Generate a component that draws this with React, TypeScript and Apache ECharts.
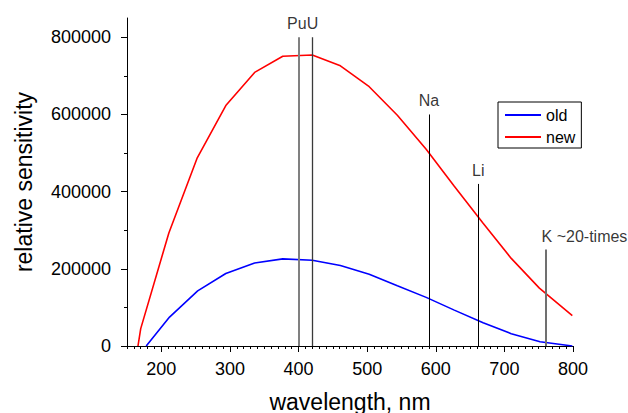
import { useEffect, useRef } from "react";
import * as echarts from "echarts";

const wavelengthOld = [178, 212, 253, 294, 336, 377, 420, 461, 503, 544, 586, 627, 669, 710, 752, 799];
const sensitivityOld = [0, 75000, 142700, 187800, 215300, 225700, 222300, 208500, 186000, 156000, 126000, 93000, 60000, 32000, 11000, 0];
const wavelengthNew = [166, 170, 211, 252, 294, 336, 377, 420, 461, 503, 544, 586, 627, 669, 710, 751, 799];
const sensitivityNew = [0, 45000, 293000, 486000, 623000, 709000, 751000, 754000, 726000, 672000, 598000, 510000, 414000, 318000, 227000, 150000, 79000];

const lineWavelengths = [400, 420, 590, 662, 760];
const lineTops = [800000, 800000, 600000, 420000, 250000];

const annotationTexts = ["PuU", "Na", "Li", "K ~20-times"];
const annotationWavelengths = [406, 590, 662, 760];
const annotationHeights = [800000, 600000, 420000, 250000];

const xTickValues = [200, 300, 400, 500, 600, 700, 800];
const yTickValues = [0, 200000, 400000, 600000, 800000];
const yMinorTickValues = [100000, 300000, 500000, 700000];

const FONT = "'Liberation Sans', Arial, Helvetica, sans-serif";

const lineStyles = [
  { color: "#808080", width: 2, type: "solid" },
  { color: "#3a3a3a", width: 1.3, type: "solid" },
  { color: "#000000", width: 1, type: "solid" },
  { color: "#000000", width: 1, type: "solid" },
  { color: "#707070", width: 2, type: "solid" },
];

export default function App() {
  const ref = useRef<HTMLDivElement>(null);
  useEffect(() => {
    document.body.style.margin = "0";
    if (!ref.current) return;
    const chart = echarts.init(ref.current, undefined, { renderer: "svg" });
    const option: any = {
      animation: false,
      textStyle: { fontFamily: FONT, color: "#000" },
      grid: { left: 127, right: 55, top: 18, bottom: 67, containLabel: false, outerBoundsMode: "none" },
      legend: {
        data: [
          { name: "old", icon: "rect" },
          { name: "new", icon: "rect" },
        ],
        orient: "vertical",
        left: 498,
        top: 102,
        itemWidth: 36,
        itemHeight: 2,
        itemGap: 6,
        padding: [5, 6, 3, 7],
        borderColor: "#000",
        borderWidth: 1,
        borderRadius: 0,
        textStyle: { fontSize: 16, color: "#000", fontFamily: FONT, lineHeight: 16 },
      },
      xAxis: [
        {
          type: "value",
          min: 150,
          max: 800,
          name: "wavelength, nm",
          nameLocation: "middle",
          nameGap: 44,
          nameTextStyle: { fontSize: 23, color: "#000", fontFamily: FONT },
          axisLine: { show: true, onZero: false, lineStyle: { color: "#000", width: 1 } },
          axisTick: { show: true, length: 6, customValues: xTickValues, lineStyle: { color: "#000" } },
          axisLabel: {
            customValues: xTickValues,
            formatter: (v: number) => String(v),
            fontSize: 18,
            color: "#000",
            margin: 14,
            fontFamily: FONT,
          },
          splitLine: { show: false },
        },
        {
          type: "value",
          min: 150,
          max: 800,
          interval: 10,
          position: "bottom",
          axisLine: { show: false },
          axisTick: { show: true, length: 3, lineStyle: { color: "#000" } },
          axisLabel: { show: false },
          splitLine: { show: false },
        },
      ],
      yAxis: [
        {
          type: "value",
          min: 0,
          max: 850000,
          name: "relative sensitivity",
          nameLocation: "middle",
          nameGap: 92,
          nameTextStyle: { fontSize: 23, color: "#000", fontFamily: FONT },
          axisLine: { show: true, onZero: false, lineStyle: { color: "#000", width: 1 } },
          axisTick: { show: true, length: 6, customValues: yTickValues, lineStyle: { color: "#000" } },
          axisLabel: {
            customValues: yTickValues,
            formatter: (v: number) => String(v),
            fontSize: 18,
            color: "#000",
            margin: 16,
            fontFamily: FONT,
          },
          splitLine: { show: false },
        },
        {
          type: "value",
          min: 0,
          max: 850000,
          position: "left",
          axisLine: { show: false },
          axisTick: { show: true, length: 3, customValues: yMinorTickValues, lineStyle: { color: "#000" } },
          axisLabel: { show: false },
          splitLine: { show: false },
        },
      ],
      series: [
        {
          name: "old",
          type: "line",
          data: wavelengthOld.map((x, i) => [x, sensitivityOld[i]]),
          showSymbol: false,
          symbol: "none",
          lineStyle: { color: "#0000ff", width: 1.6 },
          itemStyle: { color: "#0000ff" },
          z: 3,
          markLine: {
            silent: true,
            symbol: ["none", "none"],
            label: { show: false },
            animation: false,
            data: lineWavelengths.map((x, i) => [
              { coord: [x, 0], lineStyle: lineStyles[i] },
              { coord: [x, lineTops[i]] },
            ]),
          },
        },
        {
          name: "new",
          type: "line",
          data: wavelengthNew.map((x, i) => [x, sensitivityNew[i]]),
          showSymbol: false,
          symbol: "none",
          lineStyle: { color: "#ff0000", width: 1.6 },
          itemStyle: { color: "#ff0000" },
          z: 3,
        },
        {
          name: "annotations",
          type: "scatter",
          symbolSize: 1,
          itemStyle: { color: "transparent" },
          silent: true,
          data: annotationTexts.map((t, i) => ({
            value: [annotationWavelengths[i], annotationHeights[i]],
            name: t,
            label: i === annotationTexts.length - 1 ? { align: "left", offset: [-4, 0] } : undefined,
          })),
          label: {
            show: true,
            position: "top",
            distance: 5,
            formatter: (p: any) => p.name,
            fontSize: 16,
            color: "#000",
            fontFamily: FONT,
          },
        },
      ],
    };
    chart.setOption(option);
    return () => chart.dispose();
  }, []);
  return <div ref={ref} style={{ width: 628, height: 413 }} />;
}
